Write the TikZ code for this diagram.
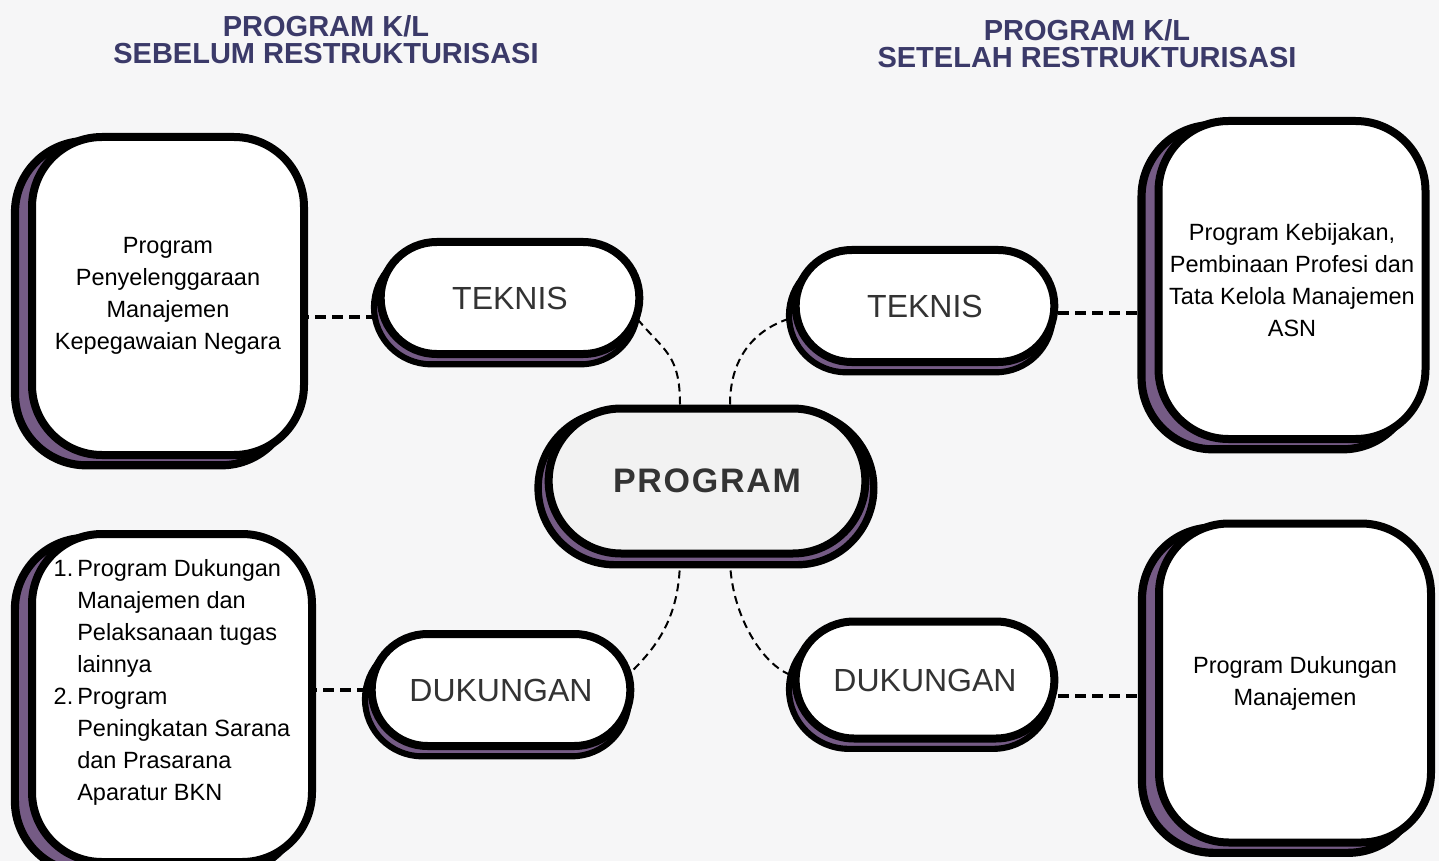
\documentclass[tikz,border=0pt]{standalone}
\usepackage{fontspec}
\setmainfont{Liberation Sans}
\newfontfamily\progfont[LetterSpace=5]{Liberation Sans}
\usetikzlibrary{shapes.misc,shadows,backgrounds}
\definecolor{bgcol}{RGB}{246,246,247}
\definecolor{shadepurple}{RGB}{117,91,133}
\definecolor{titlecol}{RGB}{59,58,105}
\definecolor{labelgray}{RGB}{51,51,51}
\definecolor{progfill}{RGB}{242,242,242}
\begin{document}
\begin{tikzpicture}[x=0.5pt,y=-0.5pt,
    purpleshadow/.style={general shadow={fill=shadepurple, draw=black, line width=4pt, #1}},
    box/.style={draw=black, line width=4pt, fill=white, rounded corners=35pt, align=center,
      font=\fontsize{11.75}{16}\selectfont,
      purpleshadow={shadow scale=1.02, shadow xshift=-7pt, shadow yshift=-3.5pt}},
    pill/.style={draw=black, line width=4pt, fill=white, rounded rectangle, minimum width=136pt,
      minimum height=56pt, text=labelgray, font=\fontsize{16}{19}\selectfont,
      purpleshadow={line width=3pt, shadow scale=1.02, shadow xshift=-2pt, shadow yshift=-4.5pt}},
    centrepill/.style={draw=black, line width=4pt, fill=progfill, rounded rectangle, minimum width=165pt,
      minimum height=72.5pt, text=labelgray, font=\progfont\bfseries\fontsize{17}{20}\selectfont,
      purpleshadow={line width=3.5pt, shadow scale=1.06, shadow xshift=-0.5pt, shadow yshift=-3.25pt}},
    title/.style={align=center, text=titlecol, font=\bfseries\fontsize{14.5}{13.5}\selectfont},
    link/.style={draw=black, line width=2pt, dash pattern=on 5.5pt off 3pt},
    thinlink/.style={draw=black, line width=1pt, dash pattern=on 4pt off 2.5pt}]
\useasboundingbox (0,0) rectangle (1439,861);

\node[title] (oldtitle) at (326,40) {PROGRAM K/L\\SEBELUM RESTRUKTURISASI};
\node[title] (newtitle) at (1087,44) {PROGRAM K/L\\SETELAH RESTRUKTURISASI};

\node[box, minimum width=136pt, minimum height=159pt] (oldtech) at (168,296)
  {Program\\Penyelenggaraan\\Manajemen\\Kepegawaian Negara};
\node[box, minimum width=140pt, minimum height=164pt] (oldsupp) at (172,698)
  {\begin{tabular}{@{}r@{\hspace{2pt}}l@{}}
    1. & Program Dukungan\\
       & Manajemen dan\\
       & Pelaksanaan tugas\\
       & lainnya\\
    2. & Program\\
       & Peningkatan Sarana\\
       & dan Prasarana\\
       & Aparatur BKN\\
       &
  \end{tabular}};
\node[box, minimum width=133.5pt, minimum height=159pt] (newtech) at (1292,280)
  {Program Kebijakan,\\Pembinaan Profesi dan\\Tata Kelola Manajemen\\ASN};
\node[box, minimum width=136pt, minimum height=159.5pt] (newsupp) at (1295,683)
  {Program Dukungan\\Manajemen};

\node[pill] (tech1) at (510,298) {TEKNIS};
\node[pill] (supp1) at (501,690) {DUKUNGAN};
\node[pill] (tech2) at (925,306) {TEKNIS};
\node[pill, minimum height=58.5pt] (supp2) at (925,680) {DUKUNGAN};
\node[centrepill] (prog) at (707,481) {PROGRAM};

\begin{scope}[on background layer]
  \fill[bgcol] (0,0) rectangle (1439,861);
  % links to the program boxes
  \draw[link] ([yshift=-9.5pt]tech1.west) -- ([yshift=-9.5pt]tech1.west -| oldtech.east);
  \draw[link] (supp1.west) -- (supp1.west -| oldsupp.east);
  \draw[link] ([yshift=-3.5pt]tech2.east) -- ([yshift=-3.5pt]tech2.east -| newtech.west);
  \draw[link] ([yshift=-8pt]supp2.east) -- ([yshift=-8pt]supp2.east -| newsupp.west);
  % links from the centre
  \draw[thinlink] ([xshift=-13.5pt]prog.north) .. controls +(0,-50) and +(25,30) .. (tech1.-10);
  \draw[thinlink] ([xshift=11.5pt]prog.north) .. controls +(0,-50) and +(-35,10) .. (tech2.185);
  \draw[thinlink] ([xshift=-13.5pt]prog.south) .. controls +(0,60) and +(25,-25) .. (supp1.8);
  \draw[thinlink] ([xshift=11.5pt]prog.south) .. controls +(0,55) and +(-30,-10) .. (supp2.178);
\end{scope}
\end{tikzpicture}
\end{document}
